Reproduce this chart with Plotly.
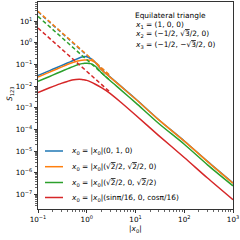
import plotly.graph_objects as go

# ---- data ----
x0_abs = [0.1, 0.15, 0.2, 0.3, 0.4, 0.5, 0.6, 0.7, 0.8, 0.9, 1.0, 1.2, 1.5, 2, 3, 5, 10, 30, 100, 300, 1000]

s_blue = [0.0309, 0.0457, 0.0603, 0.0891, 0.117, 0.145, 0.174, 0.200, 0.222, 0.235, 0.228,
          0.190, 0.126, 0.0575, 0.0269, 0.0100, 0.00263, 2.82e-4, 2.95e-5, 3.39e-6, 3.39e-7]
s_orange = [0.0263, 0.0389, 0.0513, 0.0759, 0.100, 0.120, 0.138, 0.151, 0.158, 0.162, 0.162,
            0.158, 0.124, 0.0570, 0.0263, 0.0098, 0.00257, 2.78e-4, 2.90e-5, 3.30e-6, 3.30e-7]
s_green = [0.0166, 0.0245, 0.0324, 0.0479, 0.0631, 0.0776, 0.0912, 0.102, 0.110, 0.115, 0.115,
           0.110, 0.0832, 0.0417, 0.0182, 0.00676, 0.00174, 1.9e-4, 2.09e-5, 2.34e-6, 2.51e-7]
s_red = [0.00513, 0.00741, 0.00955, 0.0135, 0.0166, 0.0191, 0.0204, 0.0209, 0.0204, 0.0195, 0.0186,
         0.0158, 0.0123, 0.00851, 0.00468, 0.00182, 4.68e-4, 5.25e-5, 5.13e-6, 5.75e-7, 5.75e-8]

# large-|x0| asymptotes (dashed), drawn from 0.1 to 3
x_asym = [0.1, 3]
a_blue = [27.0, 0.030]
a_orange = [28.5, 0.0316]
a_green = [16.7, 0.0186]
a_red = [4.84, 0.00537]

SQ2 = "√<span style='text-decoration:overline'>2</span>"
SQ3 = "√<span style='text-decoration:overline'>3</span>"
series_names = [
    "<i>x</i><sub>0</sub> = |<i>x</i><sub>0</sub>|(0, 1, 0)",
    f"<i>x</i><sub>0</sub> = |<i>x</i><sub>0</sub>|({SQ2}/2, {SQ2}/2, 0)",
    f"<i>x</i><sub>0</sub> = |<i>x</i><sub>0</sub>|({SQ2}/2, 0, {SQ2}/2)",
    "<i>x</i><sub>0</sub> = |<i>x</i><sub>0</sub>|(sinπ/16, 0, cosπ/16)",
]
colors = ["#1f77b4", "#ff7f0e", "#2ca02c", "#d62728"]

x_tick_vals = [0.1, 1, 10, 100, 1000]
x_tick_text = ["10<sup>−1</sup>", "10<sup>0</sup>", "10<sup>1</sup>", "10<sup>2</sup>", "10<sup>3</sup>"]
y_tick_vals = [1e-7, 1e-6, 1e-5, 1e-4, 1e-3, 1e-2, 1e-1, 1, 10]
y_tick_text = ["10<sup>−7</sup>", "10<sup>−6</sup>", "10<sup>−5</sup>", "10<sup>−4</sup>", "10<sup>−3</sup>",
               "10<sup>−2</sup>", "10<sup>−1</sup>", "10<sup>0</sup>", "10<sup>1</sup>"]

info_lines = [
    "Equilateral triangle",
    "<i>x</i><sub>1</sub> = (1, 0, 0)",
    f"<i>x</i><sub>2</sub> = (−1/2, {SQ3}/2, 0)",
    f"<i>x</i><sub>3</sub> = (−1/2, −{SQ3}/2, 0)",
]

FONT = "DejaVu Sans"
TICK_FS = 7.2
TEXT_FS = 7.4
W, H = 240, 240
ML, MR, MT, MB = 38, 7, 2, 31
PW, PH = W - ML - MR, H - MT - MB

def px_to_paper(px, py):
    return (px - ML) / PW, 1 - (py - MT) / PH

fig = go.Figure()
solids = [s_blue, s_orange, s_green, s_red]
asyms = [a_blue, a_orange, a_green, a_red]
for ys, ya, c, n in zip(solids, asyms, colors, series_names):
    fig.add_trace(go.Scatter(x=x0_abs, y=ys, mode="lines", line=dict(color=c, width=1.5, shape="spline", smoothing=0.8),
                             name=n, showlegend=False, hoverinfo="skip"))
    fig.add_trace(go.Scatter(x=x_asym, y=ya, mode="lines", line=dict(color=c, width=1.5, dash="4px,2.5px"),
                             showlegend=False, hoverinfo="skip"))

axis_common = dict(type="log", showgrid=False, zeroline=False, showline=True, linecolor="black", linewidth=0.8,
                   mirror=True, ticks="outside", ticklen=3.5, tickwidth=0.8, tickcolor="black",
                   tickfont=dict(family=FONT, size=TICK_FS, color="black"), tickmode="array")

minor_x = [m * 10 ** e for e in range(-1, 3) for m in range(2, 10)]
minor_y = [m * 10 ** e for e in range(-8, 2) for m in range(2, 10)]

fig.update_xaxes(range=[-1, 3], tickvals=x_tick_vals, ticktext=x_tick_text,
                 minor=dict(tickvals=minor_x, ticks="outside", ticklen=2, tickwidth=0.6, tickcolor="black"),
                 **axis_common)
fig.update_yaxes(range=[-7.67, 1.887], tickvals=y_tick_vals, ticktext=y_tick_text,
                 minor=dict(tickvals=minor_y, ticks="outside", ticklen=2, tickwidth=0.6, tickcolor="black"),
                 **axis_common)

annotations = []
shapes = []
# manual legend
leg_rows = [151, 166.7, 182.5, 197.5]
for yrow, c, n in zip(leg_rows, colors, series_names):
    x0p, y0p = px_to_paper(45, yrow)
    x1p, _ = px_to_paper(63, yrow)
    shapes.append(dict(type="line", xref="paper", yref="paper", x0=x0p, x1=x1p, y0=y0p, y1=y0p,
                       line=dict(color=c, width=1.5)))
    tx, ty = px_to_paper(69, yrow)
    annotations.append(dict(text=n, xref="paper", yref="paper", x=tx, y=ty, xanchor="left", yanchor="middle",
                            showarrow=False, font=dict(family=FONT, size=TEXT_FS, color="black")))

info_rows = [16, 24.5, 34, 44.5]
for yrow, t in zip(info_rows, info_lines):
    tx, ty = px_to_paper(133, yrow)
    annotations.append(dict(text=t, xref="paper", yref="paper", x=tx, y=ty, xanchor="left", yanchor="middle",
                            showarrow=False, font=dict(family=FONT, size=TEXT_FS, color="black")))

# axis titles
tx, ty = px_to_paper(135.5, 229)
annotations.append(dict(text="|<i>x</i><sub>0</sub>|", xref="paper", yref="paper", x=tx, y=ty,
                        xanchor="center", yanchor="middle", showarrow=False,
                        font=dict(family=FONT, size=TEXT_FS, color="black")))
tx, ty = px_to_paper(10, 94)
annotations.append(dict(text="<i>S</i><sub>123</sub>", xref="paper", yref="paper", x=tx, y=ty,
                        xanchor="center", yanchor="middle", textangle=-90, showarrow=False,
                        font=dict(family=FONT, size=TEXT_FS, color="black")))

fig.update_layout(width=W, height=H, margin=dict(l=ML, r=MR, t=MT, b=MB, pad=0),
                  paper_bgcolor="white", plot_bgcolor="white", showlegend=False, hovermode=False,
                  annotations=annotations, shapes=shapes, font=dict(family=FONT))

fig.write_html("out.html", config={"displayModeBar": False, "staticPlot": True},
               post_script="document.body.style.margin='0';document.body.style.padding='0';")
